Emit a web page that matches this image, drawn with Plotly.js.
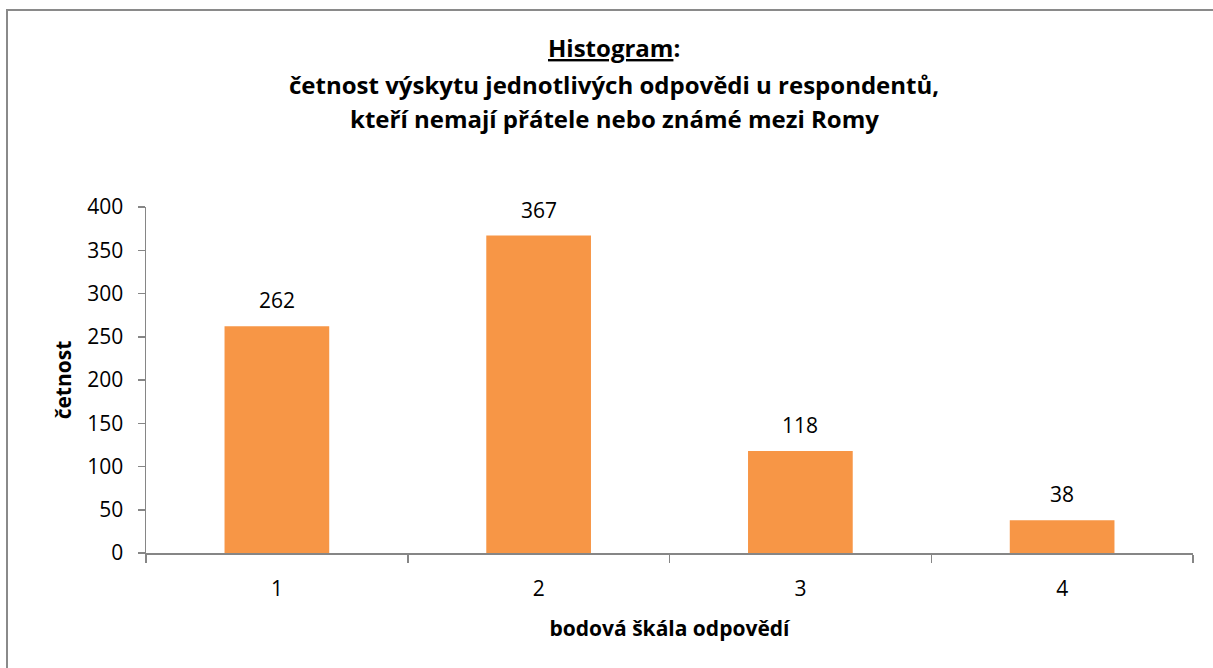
<!DOCTYPE html>
<html>
<head>
<meta charset="utf-8">
<script src="https://cdn.plot.ly/plotly-3.0.1.min.js"></script>
<style>
  html, body { margin: 0; padding: 0; background: #ffffff; }
  #wrap { position: relative; width: 1213px; height: 668px; overflow: hidden; }
  #chart { width: 1213px; height: 668px; }
  #frame { position: absolute; left: 6px; top: 9px; width: 1300px; height: 800px;
           border-left: 2px solid #8a8a8a; border-top: 2px solid #8a8a8a; pointer-events: none; }
</style>
</head>
<body>
<div id="wrap">
  <div id="chart"></div>
  <div id="frame"></div>
</div>
<script>
const categories = ['1', '2', '3', '4'];
const counts = [262, 367, 118, 38];
const yTicks = [0, 50, 100, 150, 200, 250, 300, 350, 400];
const titleLines = [
  '<u>Histogram</u>:',
  'četnost výskytu jednotlivých odpovědi u respondentů,',
  'kteří nemají přátele nebo známé mezi Romy'
];
const xTitle = 'bodová škála odpovědí';
const yTitle = 'četnost';

const FONT = '"Open Sans", sans-serif';
const AXIS_COLOR = '#868686';

const barTrace = {
  type: 'bar',
  x: categories,
  y: counts,
  marker: { color: '#F79646', line: { width: 0 } },
  width: 0.4,
  hoverinfo: 'x+y'
};

// category axis: annotation x given as category index
const labelAnnotations = categories.map((c, i) => ({
  x: categories.indexOf(c), y: counts[i], xref: 'x', yref: 'y',
  text: String(counts[i]), showarrow: false,
  yanchor: 'bottom', yshift: 10,
  font: { family: FONT, size: 21, color: '#000000' }
}));

const titleY = [47, 84, 119];
const titleAnnotations = titleLines.map((t, i) => ({
  xref: 'paper', yref: 'paper',
  x: 0.447, y: 1 + (207 - titleY[i]) / 346,
  text: '<b>' + t + '</b>', showarrow: false,
  xanchor: 'center', yanchor: 'middle',
  font: { family: FONT, size: 24, color: '#000000' }
}));

const layout = {
  width: 1213, height: 668,
  margin: { l: 146, r: 20, t: 207, b: 115, pad: 0 },
  paper_bgcolor: '#ffffff', plot_bgcolor: '#ffffff',
  showlegend: false,
  bargap: 0.6,
  xaxis: {
    type: 'category',
    categoryorder: 'array', categoryarray: categories,
    range: [-0.5, categories.length - 0.5],
    tickson: 'boundaries',
    ticks: 'outside', ticklen: 8, tickwidth: 1.5, tickcolor: AXIS_COLOR,
    showline: true, linecolor: AXIS_COLOR, linewidth: 1.5,
    showgrid: false, zeroline: false,
    tickfont: { family: FONT, size: 21, color: '#000000' },
    ticklabelstandoff: 16,
    title: { text: '<b>' + xTitle + '</b>', font: { family: FONT, size: 21, color: '#000000' }, standoff: 20 }
  },
  yaxis: {
    range: [0, 400],
    tickmode: 'array', tickvals: yTicks, ticktext: yTicks.map(String),
    ticks: 'outside', ticklen: 7, tickwidth: 1.5, tickcolor: AXIS_COLOR,
    showline: true, linecolor: AXIS_COLOR, linewidth: 1.5,
    showgrid: false, zeroline: false,
    tickfont: { family: FONT, size: 21, color: '#000000' },
    ticklabelstandoff: 10,
    title: { text: '<b>' + yTitle + '</b>', font: { family: FONT, size: 21, color: '#000000' }, standoff: 10 }
  },
  annotations: labelAnnotations.concat(titleAnnotations)
};

Plotly.newPlot('chart', [barTrace], layout, { displayModeBar: false, staticPlot: true });
</script>
</body>
</html>
